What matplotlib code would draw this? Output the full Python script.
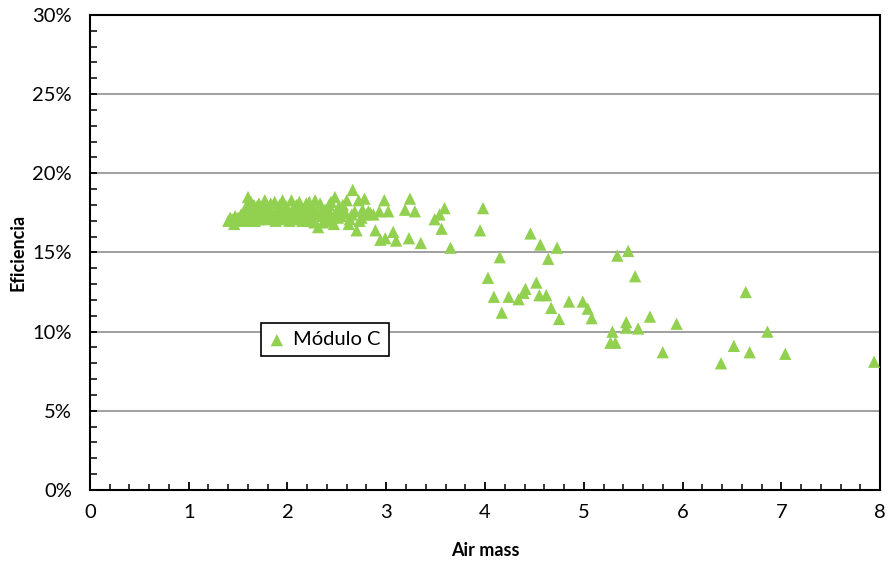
import numpy as np
import matplotlib
matplotlib.use("Agg")
import matplotlib.pyplot as plt
from matplotlib.ticker import MultipleLocator, FuncFormatter

# Air mass vs eficiencia (%) - Módulo C
air_mass = [
    1.40, 1.42, 1.44, 1.46, 1.47, 1.49, 1.50, 1.52, 1.53, 1.55,
    1.56, 1.58, 1.59, 1.60, 1.61, 1.62, 1.63, 1.64, 1.65, 1.66,
    1.68, 1.69, 1.70, 1.71, 1.73, 1.74, 1.76, 1.77, 1.78, 1.80,
    1.81, 1.83, 1.84, 1.86, 1.87, 1.89, 1.90, 1.92, 1.95, 1.96,
    1.97, 1.99, 2.00, 2.02, 2.04, 2.05, 2.07, 2.09, 2.10, 2.12,
    2.14, 2.15, 2.17, 2.19, 2.20, 2.22, 2.24, 2.25, 2.27, 2.28,
    2.30, 2.31, 2.33, 2.35, 2.36, 2.38, 2.40, 2.42, 2.44, 2.45,
    2.47, 2.48, 2.50, 2.52, 2.54, 2.56, 2.58, 2.60, 2.62, 2.63,
    2.66, 2.68, 2.70, 2.72, 2.73, 2.76, 2.78, 2.80, 2.84, 2.87,
    2.89, 2.93, 2.94, 2.98, 2.99, 3.02, 3.07, 3.10, 3.19, 3.23,
    3.24, 3.29, 3.35, 3.49, 3.54, 3.56, 3.59, 3.65, 3.95, 3.98,
    4.03, 4.09, 4.15, 4.17, 4.24, 4.34, 4.39, 4.41, 4.46, 4.52,
    4.55, 4.56, 4.62, 4.64, 4.67, 4.73, 4.75, 4.85, 4.99, 5.04,
    5.08, 5.27, 5.29, 5.32, 5.34, 5.43, 5.43, 5.45, 5.52, 5.55,
    5.67, 5.80, 5.94, 6.39, 6.52, 6.64, 6.68, 6.86, 7.04, 7.94,
    1.57, 1.67, 1.75, 1.82, 1.88, 1.93, 1.98, 2.06, 2.11, 2.16,
    2.21, 2.26, 2.34, 2.39, 2.43, 2.51, 2.57, 2.65, 2.75, 2.82,
]
eficiencia = [
    17.0, 17.2, 17.1, 16.8, 17.3, 17.0, 17.2, 17.1, 17.4, 17.0,
    17.6, 17.3, 18.0, 18.5, 17.2, 17.8, 18.2, 17.0, 17.5, 18.0,
    17.3, 17.9, 17.1, 18.1, 17.6, 17.2, 18.0, 18.3, 17.4, 17.1,
    17.8, 18.1, 17.5, 17.2, 18.2, 17.7, 17.3, 18.0, 18.3, 17.1,
    17.6, 17.9, 17.3, 17.0, 18.3, 17.7, 17.2, 18.0, 17.5, 18.2,
    17.8, 17.0, 17.4, 18.1, 17.6, 18.2, 17.2, 17.9, 16.9, 18.3,
    17.5, 16.6, 18.1, 17.3, 16.9, 17.7, 17.4, 18.0, 18.2, 17.2,
    16.8, 18.5, 17.6, 17.9, 17.3, 18.0, 17.5, 18.3, 16.8, 17.1,
    18.95, 17.6, 16.4, 18.3, 17.0, 17.7, 18.4, 17.4, 17.5, 17.4,
    16.4, 17.6, 15.8, 18.3, 15.9, 17.6, 16.3, 15.75, 17.7, 15.9,
    18.4, 17.6, 15.6, 17.1, 17.4, 16.5, 17.8, 15.3, 16.4, 17.8,
    13.4, 12.2, 14.7, 11.2, 12.2, 12.05, 12.45, 12.7, 16.2, 13.1,
    12.3, 15.5, 12.3, 14.6, 11.5, 15.3, 10.8, 11.9, 11.9, 11.45,
    10.85, 9.3, 10.0, 9.3, 14.8, 10.6, 10.25, 15.1, 13.5, 10.2,
    10.95, 8.7, 10.5, 8.0, 9.1, 12.5, 8.7, 10.0, 8.6, 8.1,
    17.4, 17.0, 17.5, 17.3, 17.0, 17.4, 17.2, 17.4, 17.1, 17.6,
    17.0, 17.4, 17.6, 17.0, 17.5, 17.2, 17.7, 17.4, 17.2, 17.6,
]

plt.rcParams['font.family'] = ['Lato', 'DejaVu Sans']

fig = plt.figure(figsize=(8.9, 5.63), dpi=100)
ax = fig.add_axes([0.1011, 0.1297, 0.8877, 0.8437])

ax.scatter(air_mass, np.array(eficiencia) / 100, marker='^', s=78,
           color='#92D050', edgecolors='none', zorder=3, label='Módulo C')

ax.set_xlim(0, 8)
ax.set_ylim(0, 0.30)
ax.xaxis.set_major_locator(MultipleLocator(1))
ax.xaxis.set_minor_locator(MultipleLocator(0.2))
ax.yaxis.set_major_locator(MultipleLocator(0.05))
ax.yaxis.set_minor_locator(MultipleLocator(0.01))
ax.yaxis.set_major_formatter(FuncFormatter(lambda v, p: f"{v*100:.0f}%"))

ax.grid(True, axis='y', which='major', color='#868686', linewidth=1.1, zorder=1)
ax.set_axisbelow(True)

for s in ax.spines.values():
    s.set_color('black')
    s.set_linewidth(1.5)

ax.tick_params(axis='both', which='both', direction='in', top=False, right=False,
               colors='black', labelsize=14.5)
ax.tick_params(axis='x', which='major', length=6, width=1.3, pad=10)
ax.tick_params(axis='x', which='minor', length=4, width=1.1)
ax.tick_params(axis='y', which='major', length=5, width=1.3, pad=13)
ax.tick_params(axis='y', which='minor', length=5, width=1.1)

ax.set_xlabel('Air mass', fontsize=13, fontweight='bold', labelpad=15)
ax.set_ylabel('Eficiencia', fontsize=13, fontweight='bold', labelpad=4)

leg = ax.legend(loc='center', bbox_to_anchor=(0.297, 0.316), fontsize=14.5,
                frameon=True, fancybox=False, edgecolor='black',
                framealpha=1, handlelength=0.8, handletextpad=0.4,
                borderpad=0.4, scatterpoints=1, markerscale=1.0)
leg.get_frame().set_linewidth(1.2)

plt.savefig('out.png', dpi=100)
plt.close()
